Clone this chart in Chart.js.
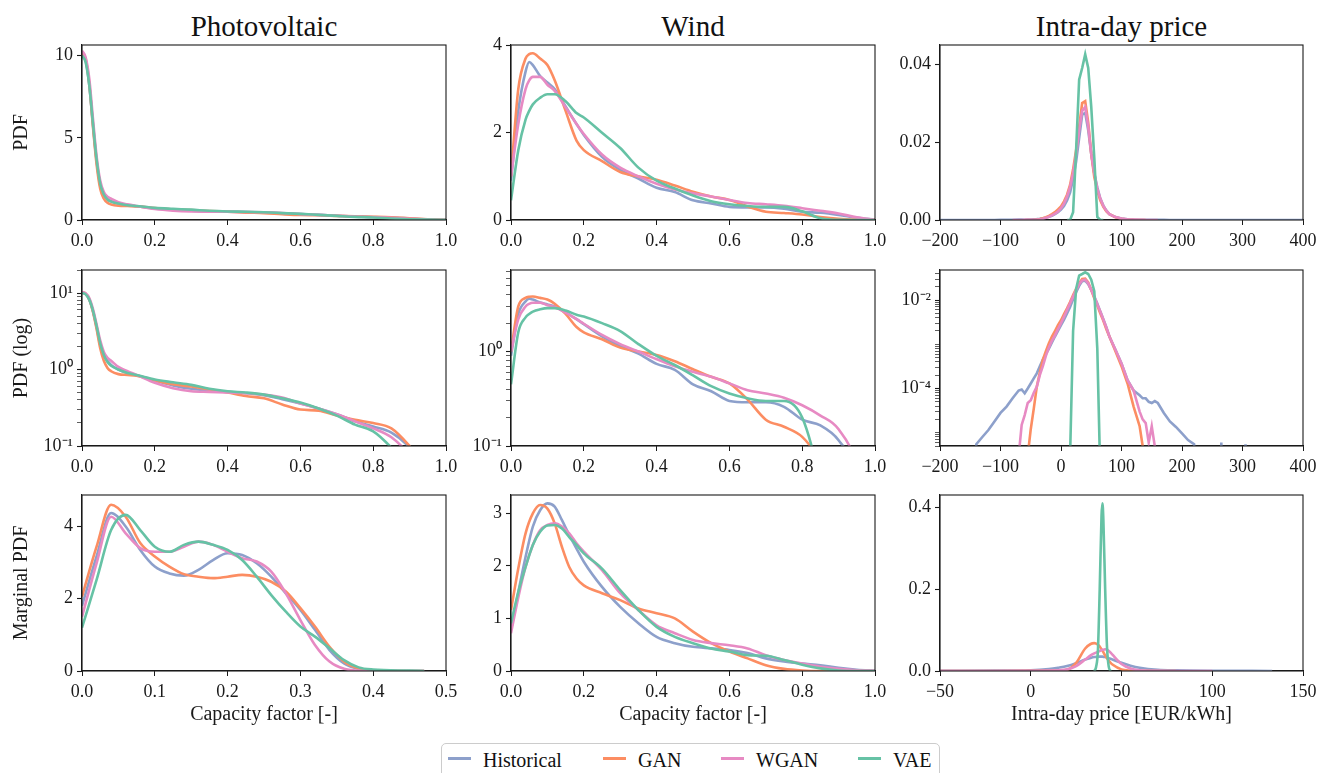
<!DOCTYPE html>
<html>
<head>
<meta charset="utf-8">
<script src="https://cdn.jsdelivr.net/npm/chart.js@4.4.1/dist/chart.umd.min.js"></script>
<style>
  body { margin: 0; width: 1333px; height: 773px; background: #fff; position: relative; overflow: hidden;
         font-family: 'Liberation Serif', 'Times New Roman', serif; color: #111; }
  .col-title { position: absolute; top: 8px; height: 36px; line-height: 36px; font-size: 29px; text-align: center; white-space: nowrap; }
  #legend { position: absolute; left: 441px; top: 743px; width: 499px; height: 50px; border: 1px solid #ccc; border-radius: 5px; box-sizing: border-box; }
  .lg-line { position: absolute; height: 3px; width: 23px; top: 757px; }
  .lg-text { position: absolute; top: 748px; height: 24px; line-height: 24px; font-size: 20px; white-space: nowrap; }
</style>
</head>
<body>
<div class="col-title" style="left:82px;width:364px">Photovoltaic</div>
<div class="col-title" style="left:511px;width:364px">Wind</div>
<div class="col-title" style="left:940px;width:363px">Intra-day price</div>
<div id="legend"></div>

<script>
const seriesNames = ['Historical', 'GAN', 'WGAN', 'VAE'];
const seriesColors = ['#8da0cb', '#fc8d62', '#e78ac3', '#66c2a5'];

// --- Photovoltaic PDF (rows 1 and 2) ---
const pvX = [0, 0.01, 0.02, 0.03, 0.04, 0.05, 0.06, 0.07, 0.08, 0.1, 0.125, 0.15, 0.2, 0.25, 0.3, 0.35, 0.4, 0.45, 0.5, 0.55, 0.6, 0.65, 0.7, 0.75, 0.8, 0.85, 0.9, 0.95, 1.0];
const pvHist = [10.1, 9.7, 8.2, 5.8, 3.6, 2.1, 1.55, 1.3, 1.15, 1.0, 0.9, 0.84, 0.72, 0.62, 0.56, 0.53, 0.51, 0.49, 0.46, 0.41, 0.36, 0.31, 0.26, 0.21, 0.18, 0.15, 0.095, 0.04, 0.01];
const pvGan = [10.2, 9.8, 8.3, 5.7, 3.4, 1.9, 1.3, 1.05, 0.95, 0.87, 0.85, 0.83, 0.72, 0.64, 0.6, 0.55, 0.5, 0.45, 0.42, 0.35, 0.3, 0.29, 0.25, 0.22, 0.2, 0.17, 0.1, 0.05, 0.01];
const pvWgan = [10.3, 9.9, 8.6, 6.2, 3.9, 2.4, 1.7, 1.42, 1.3, 1.08, 0.95, 0.85, 0.67, 0.57, 0.52, 0.51, 0.5, 0.49, 0.47, 0.43, 0.36, 0.31, 0.26, 0.21, 0.17, 0.13, 0.075, 0.03, 0.01];
const pvVae = [10.0, 9.6, 8.2, 5.9, 3.7, 2.2, 1.55, 1.25, 1.12, 1.0, 0.9, 0.85, 0.74, 0.68, 0.63, 0.56, 0.52, 0.5, 0.47, 0.42, 0.37, 0.31, 0.25, 0.19, 0.155, 0.095, 0.05, 0.02, 0.005];

// --- Wind PDF (rows 1 and 2) ---
const windX = [0, 0.02, 0.04, 0.05, 0.06, 0.08, 0.1, 0.12, 0.15, 0.18, 0.2, 0.25, 0.3, 0.35, 0.4, 0.45, 0.5, 0.55, 0.6, 0.65, 0.7, 0.75, 0.8, 0.85, 0.9, 0.95, 1.0];
const windHist = [0.9, 2.5, 3.4, 3.62, 3.55, 3.3, 3.15, 3.0, 2.6, 2.2, 1.95, 1.45, 1.15, 0.95, 0.74, 0.64, 0.45, 0.38, 0.3, 0.29, 0.29, 0.26, 0.19, 0.165, 0.115, 0.05, 0.005];
const windGan = [1.0, 3.0, 3.7, 3.8, 3.82, 3.7, 3.55, 3.2, 2.5, 1.82, 1.6, 1.35, 1.1, 1.0, 0.92, 0.79, 0.65, 0.54, 0.46, 0.31, 0.19, 0.16, 0.125, 0.07, 0.03, 0.01, 0.002];
const windWgan = [1.0, 2.2, 3.0, 3.2, 3.28, 3.28, 3.1, 2.96, 2.58, 2.2, 1.97, 1.5, 1.2, 1.0, 0.83, 0.7, 0.61, 0.54, 0.46, 0.39, 0.36, 0.325, 0.27, 0.21, 0.15, 0.06, 0.005];
const windVae = [0.45, 1.6, 2.3, 2.5, 2.65, 2.8, 2.88, 2.88, 2.72, 2.45, 2.35, 2.0, 1.65, 1.2, 0.9, 0.72, 0.56, 0.43, 0.36, 0.32, 0.3, 0.3, 0.2, 0.04, 0.003, 0.001, 0.0005];

// --- Intra-day price PDF (rows 1 and 2) ---
const priceX = [-200, -150, -140, -130, -120, -110, -100, -90, -80, -70, -65, -60, -55, -50, -45, -40, -35, -30, -25, -20, -15, -10, -5, 0, 5, 10, 15, 20, 25, 30, 35, 40, 45, 50, 55, 60, 65, 70, 75, 80, 90, 100, 110, 120, 130, 135, 140, 145, 150, 155, 160, 170, 180, 190, 200, 210, 220, 230, 260, 265, 270, 300, 305, 310, 400];
const priceHist = [1e-9, 1e-9, 5.5e-6, 8e-6, 1.15e-5, 1.8e-5, 2.8e-5, 3.9e-5, 6e-5, 9e-5, 9.5e-5, 7.8e-5, 1.0e-4, 1.3e-4, 1.7e-4, 2.2e-4, 3.2e-4, 4.5e-4, 6e-4, 8e-4, 1.1e-3, 1.5e-3, 2e-3, 2.7e-3, 3.6e-3, 5e-3, 7e-3, 0.0105, 0.015, 0.021, 0.027, 0.0275, 0.023, 0.017, 0.012, 8.4e-3, 5.5e-3, 3.7e-3, 2.4e-3, 1.5e-3, 7.5e-4, 3.7e-4, 1.55e-4, 9e-5, 7e-5, 6e-5, 6e-5, 5e-5, 4.7e-5, 5.2e-5, 4.7e-5, 2.8e-5, 1.8e-5, 1.35e-5, 9.6e-6, 6.8e-6, 5.5e-6, 1e-9, 1e-9, 6e-6, 1e-9, 1e-9, 5.5e-6, 1e-9, 1e-9];
const priceGan = [null, null, null, null, null, null, null, null, null, null, null, 1e-9, 3e-6, 1.2e-5, 3.5e-5, 1.1e-4, 2.3e-4, 4.5e-4, 7e-4, 1.05e-3, 1.5e-3, 2e-3, 2.7e-3, 3.5e-3, 4.8e-3, 6.5e-3, 9e-3, 0.013, 0.018, 0.024, 0.03, 0.0305, 0.025, 0.017, 0.011, 7.5e-3, 5e-3, 3.4e-3, 2.2e-3, 1.5e-3, 7e-4, 3.2e-4, 1.3e-4, 3.9e-5, 1.4e-5, 5e-6, 1e-9, null, null, null, null, null, null, null, null, null, null, null, null, null, null, null, null, null, null];
const priceWgan = [null, null, null, null, null, null, null, null, 1e-9, 3e-6, 1.5e-5, 2.5e-5, 4.7e-5, 5.4e-5, 8e-5, 1.1e-4, 2e-4, 3.2e-4, 5.5e-4, 8.5e-4, 1.2e-3, 1.6e-3, 2.2e-3, 3e-3, 4.2e-3, 6e-3, 8.5e-3, 0.012, 0.017, 0.023, 0.028, 0.029, 0.024, 0.017, 0.012, 8e-3, 5.5e-3, 3.6e-3, 2.4e-3, 1.5e-3, 7.5e-4, 3.7e-4, 1.55e-4, 9e-5, 3e-5, 2e-5, 1.65e-5, 6e-6, 1.4e-5, 5e-6, 1e-9, null, null, null, null, null, null, null, null, null, null, null, null, null, null];
const priceVae = [null, null, null, null, null, null, null, null, null, null, null, null, null, null, null, null, null, null, null, null, null, null, null, null, null, 1e-9, 3e-6, 2e-3, 0.018, 0.036, 0.039, 0.0425, 0.039, 0.029, 0.016, 8e-4, 1e-6, 1e-9, null, null, null, null, null, null, null, null, null, null, null, null, null, null, null, null, null, null, null, null, null, null, null, null, null, null, null];

// --- Marginal PDFs (row 3) ---
const pvMargX = [0, 0.02, 0.04, 0.06, 0.08, 0.1, 0.12, 0.14, 0.16, 0.18, 0.2, 0.22, 0.24, 0.26, 0.28, 0.3, 0.32, 0.34, 0.36, 0.38, 0.4, 0.45, 0.47];
const pvMargHist = [1.8, 3.17, 4.37, 4.0, 3.35, 2.89, 2.7, 2.64, 2.8, 3.07, 3.26, 3.21, 2.98, 2.61, 2.15, 1.69, 1.14, 0.58, 0.21, 0.06, 0.01, 0.0, 0.0];
const pvMargGan = [2.06, 3.44, 4.6, 4.27, 3.54, 3.17, 2.89, 2.68, 2.61, 2.57, 2.61, 2.66, 2.61, 2.47, 2.2, 1.74, 1.23, 0.67, 0.26, 0.07, 0.01, 0.0, 0.0];
const pvMargWgan = [1.5, 2.98, 4.27, 3.81, 3.4, 3.3, 3.3, 3.44, 3.58, 3.49, 3.3, 3.12, 3.03, 2.75, 2.15, 1.41, 0.72, 0.26, 0.06, 0.01, 0.0, 0.0, 0.0];
const pvMargVae = [1.2, 2.52, 3.9, 4.32, 3.9, 3.44, 3.3, 3.49, 3.58, 3.49, 3.35, 3.07, 2.61, 2.1, 1.64, 1.23, 0.95, 0.63, 0.3, 0.1, 0.04, 0.01, 0.0];

const windMargX = [0, 0.02, 0.04, 0.06, 0.08, 0.1, 0.12, 0.14, 0.16, 0.18, 0.2, 0.25, 0.3, 0.35, 0.4, 0.45, 0.5, 0.55, 0.6, 0.65, 0.7, 0.75, 0.8, 0.85, 0.9, 0.95, 1.0];
const windMargHist = [0.78, 1.5, 2.17, 2.75, 3.06, 3.19, 3.13, 2.87, 2.59, 2.33, 2.08, 1.6, 1.22, 0.91, 0.65, 0.53, 0.46, 0.43, 0.4, 0.34, 0.24, 0.18, 0.14, 0.11, 0.06, 0.025, 0.005];
const windMargGan = [1.16, 1.95, 2.62, 3.0, 3.16, 3.09, 2.81, 2.36, 1.98, 1.76, 1.63, 1.48, 1.35, 1.19, 1.1, 1.0, 0.75, 0.53, 0.37, 0.24, 0.11, 0.04, 0.01, 0.0, 0.0, 0.0, 0.0];
const windMargWgan = [0.72, 1.4, 1.98, 2.4, 2.68, 2.78, 2.81, 2.75, 2.62, 2.43, 2.27, 1.92, 1.48, 1.16, 0.87, 0.72, 0.59, 0.53, 0.49, 0.43, 0.3, 0.21, 0.14, 0.08, 0.04, 0.015, 0.005];
const windMargVae = [0.91, 1.5, 1.98, 2.4, 2.65, 2.77, 2.78, 2.71, 2.55, 2.4, 2.24, 1.95, 1.54, 1.16, 0.84, 0.65, 0.53, 0.43, 0.37, 0.3, 0.29, 0.21, 0.12, 0.05, 0.01, 0.0, 0.0];

const priceMargX = [-50, -20, 0, 10, 15, 20, 25, 30, 33, 35, 36, 37, 38, 39, 39.5, 40, 41, 42, 43, 44, 45, 50, 55, 60, 70, 80, 100, 133];
const priceMargHist = [0.0005, 0.001, 0.002, 0.005, 0.008, 0.012, 0.019, 0.028, 0.032, 0.034, 0.0345, 0.035, 0.035, 0.035, 0.035, 0.0345, 0.034, 0.033, 0.031, 0.03, 0.028, 0.02, 0.013, 0.008, 0.003, 0.0015, 0.0005, 0.0001];
const priceMargGan = [0.0, 0.0, 0.0002, 0.0005, 0.001, 0.003, 0.02, 0.055, 0.066, 0.068, 0.067, 0.064, 0.06, 0.053, 0.05, 0.046, 0.038, 0.031, 0.025, 0.02, 0.016, 0.004, 0.001, 0.0002, 0.0, 0.0, null, null];
const priceMargWgan = [0.0, 0.0, 0.0005, 0.001, 0.002, 0.004, 0.012, 0.028, 0.038, 0.043, 0.045, 0.047, 0.049, 0.051, 0.052, 0.052, 0.053, 0.052, 0.049, 0.045, 0.04, 0.017, 0.006, 0.002, 0.0005, 0.0001, 0.0, null];
const priceMargVae = [null, null, null, null, null, null, null, null, null, 0.0, 0.01, 0.05, 0.2, 0.38, 0.41, 0.37, 0.2, 0.06, 0.01, 0.0, null, null, null, null, null, null, null, null];

// --- tick values ---
const unitTicks = [0, 0.2, 0.4, 0.6, 0.8, 1.0];
const halfTicks = [0, 0.1, 0.2, 0.3, 0.4, 0.5];
const priceTicks = [-200, -100, 0, 100, 200, 300, 400];
const priceMargTicks = [-50, 0, 50, 100, 150];
const pvPdfYTicks = [0, 5, 10];
const windPdfYTicks = [0, 2, 4];
const pricePdfYTicks = [0, 0.02, 0.04];
const pvMargYTicks = [0, 2, 4];
const windMargYTicks = [0, 1, 2, 3];
const priceMargYTicks = [0, 0.2, 0.4];
const pvLogLabeled = [0.1, 1, 10];
const windLogLabeled = [0.1, 1];
const priceLogLabeled = [1e-4, 1e-2];

// --- layout (plot areas in page pixels) ---
const colL = [82, 511, 940], colR = [446, 875, 1303], colPadL = [82, 60, 70];
const rowT = [45, 270, 495], rowB = [220, 446, 671];
const padT = 15, padR = 30, padB = 60;
const INK = '#1a1a1a';

Chart.defaults.font.family = "'Liberation Serif', 'Times New Roman', serif";
Chart.defaults.color = INK;

const frame = {
  id: 'frame',
  afterDraw(chart) {
    const { ctx, chartArea: a } = chart;
    ctx.save();
    ctx.strokeStyle = INK;
    ctx.lineWidth = 1.1;
    ctx.strokeRect(a.left, a.top, a.right - a.left, a.bottom - a.top);
    ctx.restore();
  }
};

const fmt1 = v => v.toFixed(1);
const fmtInt = v => String(v);
const fmt2 = v => v.toFixed(2);
const fmtPrice = v => (v < 0 ? '\u2212' + Math.abs(v) : String(v));
const sup = { '-': '\u207B', '0': '\u2070', '1': '\u00B9', '2': '\u00B2', '3': '\u00B3', '4': '\u2074', '5': '\u2075' };
const logFmt = labeled => v => {
  const hit = labeled.some(t => Math.abs(Math.log10(v) - Math.log10(t)) < 1e-6);
  if (!hit) return '';
  const e = Math.round(Math.log10(v));
  return '10' + String(e).split('').map(c => sup[c]).join('');
};

function logTicks(min, max) {
  const out = [];
  for (let e = Math.floor(Math.log10(min)); e <= Math.ceil(Math.log10(max)); e++) {
    for (let m = 1; m < 10; m++) {
      const v = m * Math.pow(10, e);
      if (v >= min * 0.999 && v <= max * 1.001) out.push(v);
    }
  }
  return out;
}

function pts(xs, ys) {
  return xs.map((x, i) => ({ x: x, y: ys[i] }));
}

function makePanel(row, col, cfg) {
  const w = colR[col] - colL[col] + colPadL[col] + padR;
  const h = rowB[row] - rowT[row] + padT + padB;
  const canvas = document.createElement('canvas');
  canvas.width = w;
  canvas.height = h;
  canvas.style.cssText = `position:absolute;left:${colL[col] - colPadL[col]}px;top:${rowT[row] - padT}px;width:${w}px;height:${h}px`;
  document.body.appendChild(canvas);

  const datasets = cfg.series.map((ys, i) => ({
    label: seriesNames[i],
    data: pts(cfg.xs, ys),
    borderColor: seriesColors[i],
    backgroundColor: seriesColors[i],
    borderWidth: 2.6,
    pointRadius: 0,
    fill: false,
    tension: cfg.smooth ? 0.4 : 0,
    cubicInterpolationMode: cfg.smooth ? 'monotone' : 'default',
    spanGaps: false,
    clip: 0,
    order: 3 - i
  }));

  new Chart(canvas, {
    type: 'line',
    data: { datasets: datasets },
    options: {
      responsive: false,
      animation: false,
      events: [],
      layout: { padding: { left: 0, top: padT, right: padR, bottom: 0 } },
      plugins: { legend: { display: false }, tooltip: { enabled: false } },
      scales: {
        x: {
          type: 'linear',
          min: cfg.xMin,
          max: cfg.xMax,
          bounds: 'data',
          afterBuildTicks: s => { s.ticks = cfg.xTicks.map(v => ({ value: v })); },
          afterFit: s => { s.height = padB; },
          ticks: { callback: cfg.xFmt, autoSkip: false, maxRotation: 0, padding: 5, font: { size: 18 }, color: INK },
          grid: { drawOnChartArea: false, tickLength: 5, tickColor: INK },
          border: { color: INK, width: 1.1 },
          title: {
            display: !!cfg.xTitle,
            text: cfg.xTitle || '',
            font: { size: 20 },
            color: INK,
            padding: { top: 0, bottom: 4 }
          }
        },
        y: {
          type: cfg.yLog ? 'logarithmic' : 'linear',
          min: cfg.yMin,
          max: cfg.yMax,
          bounds: 'data',
          afterBuildTicks: s => { s.ticks = cfg.yTicks.map(v => ({ value: v })); },
          afterFit: s => { s.width = colPadL[col]; },
          ticks: { callback: cfg.yFmt, autoSkip: false, padding: 4, font: { size: 18 }, color: INK },
          grid: {
            drawOnChartArea: false,
            tickLength: 5,
            tickColor: INK,
            tickWidth: c => (c.tick && c.tick.label === '' ? 0.7 : 1.1)
          },
          border: { color: INK, width: 1.1 },
          title: {
            display: !!cfg.yTitle,
            text: cfg.yTitle || '',
            font: { size: 20 },
            color: INK,
            padding: { top: 10, bottom: 0 }
          }
        }
      }
    },
    plugins: [frame]
  });
}

// row 1: PDF
makePanel(0, 0, { xs: pvX, series: [pvHist, pvGan, pvWgan, pvVae], smooth: true,
  xMin: 0, xMax: 1, xTicks: unitTicks, xFmt: fmt1,
  yMin: 0, yMax: 10.65, yTicks: pvPdfYTicks, yFmt: fmtInt, yTitle: 'PDF' });
makePanel(0, 1, { xs: windX, series: [windHist, windGan, windWgan, windVae], smooth: true,
  xMin: 0, xMax: 1, xTicks: unitTicks, xFmt: fmt1,
  yMin: 0, yMax: 4.01, yTicks: windPdfYTicks, yFmt: fmtInt });
makePanel(0, 2, { xs: priceX, series: [priceHist, priceGan, priceWgan, priceVae], smooth: false,
  xMin: -200, xMax: 400, xTicks: priceTicks, xFmt: fmtPrice,
  yMin: 0, yMax: 0.0449, yTicks: pricePdfYTicks, yFmt: fmt2 });

// row 2: PDF (log)
makePanel(1, 0, { xs: pvX, series: [pvHist, pvGan, pvWgan, pvVae], smooth: true,
  xMin: 0, xMax: 1, xTicks: unitTicks, xFmt: fmt1,
  yLog: true, yMin: 0.1, yMax: 20, yTicks: logTicks(0.1, 20), yFmt: logFmt(pvLogLabeled), yTitle: 'PDF (log)' });
makePanel(1, 1, { xs: windX, series: [windHist, windGan, windWgan, windVae], smooth: true,
  xMin: 0, xMax: 1, xTicks: unitTicks, xFmt: fmt1,
  yLog: true, yMin: 0.1, yMax: 7.3, yTicks: logTicks(0.1, 7.3), yFmt: logFmt(windLogLabeled) });
makePanel(1, 2, { xs: priceX, series: [priceHist, priceGan, priceWgan, priceVae], smooth: false,
  xMin: -200, xMax: 400, xTicks: priceTicks, xFmt: fmtPrice,
  yLog: true, yMin: 5e-6, yMax: 0.048, yTicks: logTicks(5e-6, 0.048), yFmt: logFmt(priceLogLabeled) });

// row 3: marginal PDF
makePanel(2, 0, { xs: pvMargX, series: [pvMargHist, pvMargGan, pvMargWgan, pvMargVae], smooth: true,
  xMin: 0, xMax: 0.5, xTicks: halfTicks, xFmt: fmt1, xTitle: 'Capacity factor [-]',
  yMin: 0, yMax: 4.87, yTicks: pvMargYTicks, yFmt: fmtInt, yTitle: 'Marginal PDF' });
makePanel(2, 1, { xs: windMargX, series: [windMargHist, windMargGan, windMargWgan, windMargVae], smooth: true,
  xMin: 0, xMax: 1, xTicks: unitTicks, xFmt: fmt1, xTitle: 'Capacity factor [-]',
  yMin: 0, yMax: 3.35, yTicks: windMargYTicks, yFmt: fmtInt });
makePanel(2, 2, { xs: priceMargX, series: [priceMargHist, priceMargGan, priceMargWgan, priceMargVae], smooth: true,
  xMin: -50, xMax: 150, xTicks: priceMargTicks, xFmt: fmtPrice, xTitle: 'Intra-day price [EUR/kWh]',
  yMin: 0, yMax: 0.43, yTicks: priceMargYTicks, yFmt: fmt1 });

// legend (HTML)
const legendLineX = [448, 603, 721, 858];
const legendTextX = [483, 638, 756, 893];
seriesNames.forEach((name, i) => {
  const line = document.createElement('div');
  line.className = 'lg-line';
  line.style.left = legendLineX[i] + 'px';
  line.style.background = seriesColors[i];
  document.body.appendChild(line);
  const txt = document.createElement('div');
  txt.className = 'lg-text';
  txt.style.left = legendTextX[i] + 'px';
  txt.textContent = name;
  document.body.appendChild(txt);
});
</script>
</body>
</html>
